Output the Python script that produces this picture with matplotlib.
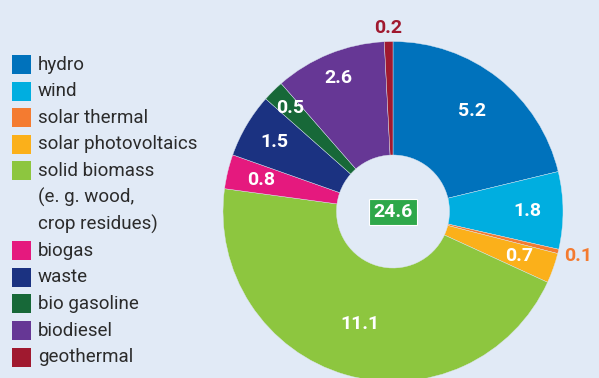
import numpy as np
import matplotlib
matplotlib.use("Agg")
import matplotlib.pyplot as plt
from matplotlib.patches import Rectangle

# --- data ---
sources = ["hydro", "wind", "solar thermal", "solar photovoltaics",
           "solid biomass\n(e. g. wood,\ncrop residues)", "biogas", "waste",
           "bio gasoline", "biodiesel", "geothermal"]
values = [5.2, 1.8, 0.1, 0.7, 11.1, 0.8, 1.5, 0.5, 2.6, 0.2]
value_labels = ["5.2", "1.8", "0.1", "0.7", "11.1", "0.8", "1.5", "0.5", "2.6", "0.2"]
total_label = "24.6"

colors = ["#0072bc", "#00aee0", "#f47b30", "#fbb01a", "#8dc63f",
          "#e5197e", "#1b3281", "#176838", "#663795", "#a0192f"]
label_dist = [0.75, 0.79, 1.12, 0.79, 0.69, 0.80, 0.81, 0.86, 0.85, 1.08]
outside = [False, False, True, False, False, False, False, False, False, True]

bg = "#e1eaf6"
W, H = 599, 378
cx, cy, R = 393, H - 211.5, 170
hole = 56.5

font = ["Roboto", "DejaVu Sans"]

fig = plt.figure(figsize=(W / 100, H / 100), dpi=100)
fig.patch.set_facecolor(bg)
ax = fig.add_axes([0, 0, 1, 1])

wedges, _ = ax.pie(values, colors=colors, startangle=90, counterclock=False,
                   center=(cx, cy), radius=R,
                   wedgeprops=dict(width=R - hole, edgecolor="#dce6f0", linewidth=0.3),
                   frame=True)
ax.set_xlim(0, W)
ax.set_ylim(0, H)
ax.set_aspect("equal")
ax.axis("off")

for w, lab, d, out, col in zip(wedges, value_labels, label_dist, outside, colors):
    ang = np.deg2rad((w.theta1 + w.theta2) / 2)
    x = cx + d * R * np.cos(ang)
    y = cy + d * R * np.sin(ang)
    ax.text(x, y, lab, ha="center", va="center", fontsize=14, fontweight="bold",
            color=col if out else "white", family=font)

# total in the middle
ax.text(cx, cy - 0.5, total_label, ha="center", va="center", fontsize=14, fontweight="bold",
        color="white", family=font,
        bbox=dict(boxstyle="square,pad=0.22", facecolor="#2ea84a", edgecolor="white", linewidth=0.8))

# --- legend ---
row = 26.6
y0 = H - 64.5
line = 0
for name, col in zip(sources, colors):
    y = y0 - line * row
    ax.add_patch(Rectangle((12, y - 9.5), 19, 19, facecolor=col, edgecolor="none"))
    parts = name.split("\n")
    for k, p in enumerate(parts):
        ax.text(38, y - k * row, p, ha="left", va="center", fontsize=13.5,
                color="#2b2b2b", family=font)
    line += len(parts)

fig.savefig("out.png", dpi=100, facecolor=bg)
